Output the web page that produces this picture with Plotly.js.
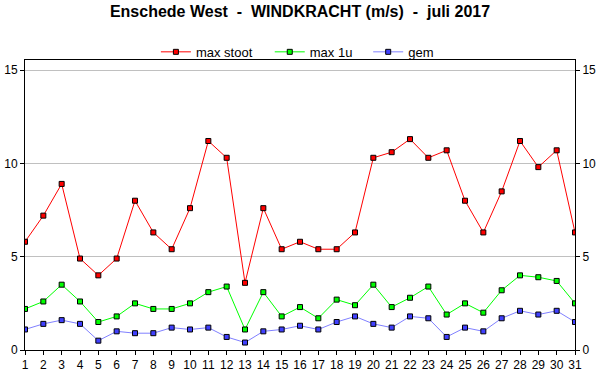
<!DOCTYPE html>
<html><head><meta charset="utf-8">
<script src="https://cdn.plot.ly/plotly-3.0.1.min.js"></script>
<style>body{margin:0;background:#fff}#c{width:600px;height:390px}</style>
</head><body><div id="c"></div>
<script>
const days = Array.from({length:31},(_,i)=>i+1);
const maxStoot = [5.8,7.2,8.9,4.9,4.0,4.9,8.0,6.3,5.4,7.6,11.2,10.3,3.6,7.6,5.4,5.8,5.4,5.4,6.3,10.3,10.6,11.3,10.3,10.7,8.0,6.3,8.5,11.2,9.8,10.7,6.3];
const max1u = [2.2,2.6,3.5,2.6,1.5,1.8,2.5,2.2,2.2,2.5,3.1,3.4,1.1,3.1,1.8,2.3,1.7,2.7,2.4,3.5,2.3,2.8,3.4,1.9,2.5,2.0,3.2,4.0,3.9,3.7,2.5];
const gem = [1.1,1.4,1.6,1.4,0.5,1.0,0.9,0.9,1.2,1.1,1.2,0.7,0.4,1.0,1.1,1.3,1.1,1.5,1.8,1.4,1.2,1.8,1.7,0.7,1.2,1.0,1.7,2.1,1.9,2.1,1.5];
const yTicks = [0,5,10,15];
const F = '"Liberation Sans", Arial, sans-serif';
function tr(name, y, lc, mc, lg){
  return {x:days, y:y, name:name, type:'scatter', mode:'lines+markers', legend:lg,
    line:{color:lc,width:1}, marker:{symbol:'square',size:5,color:mc,line:{color:'#000',width:1}}};
}
const data = [
  tr('max stoot', maxStoot, '#ff0000', '#ff0000', 'legend'),
  tr('max 1u', max1u, '#00ff00', '#00ff00', 'legend2'),
  tr('gem', gem, '#8080ff', '#4040ff', 'legend3')
];
const yr = [0,15.54];
function lg(x){ return {x:x, xanchor:'left', y:1.028, yanchor:'middle', orientation:'h', font:{family:F,size:13,color:'#000'}, bgcolor:'rgba(0,0,0,0)'}; }
const layout = {
  width:600, height:390, margin:{l:25,r:25,t:60,b:40},
  paper_bgcolor:'#fff', plot_bgcolor:'#fff',
  font:{family:F,size:12,color:'#000'},
  title:{text:'<b>Enschede West  -  WINDKRACHT (m/s)  -  juli 2017</b>', x:0.5, xanchor:'center', y:0.97, yanchor:'middle', font:{family:F,size:16,color:'#000'}},
  showlegend:true,
  legend:lg(0.238), legend2:lg(0.445), legend3:lg(0.624),
  xaxis:{range:[1,31], tickvals:days, ticktext:days.map(String), showgrid:false, zeroline:false,
    showline:true, linecolor:'#000', linewidth:1, mirror:true, ticks:'outside', ticklen:4, tickcolor:'#000', tickfont:{family:F,size:12}},
  yaxis:{range:yr, tickvals:yTicks, showgrid:true, gridcolor:'#c0c0c0', gridwidth:1, zeroline:false,
    showline:true, linecolor:'#000', linewidth:1, ticks:'outside', ticklen:4, tickcolor:'#000', tickfont:{family:F,size:12}},
  yaxis2:{range:yr, tickvals:yTicks, overlaying:'y', side:'right', showgrid:false, zeroline:false,
    showline:true, linecolor:'#000', linewidth:1, ticks:'outside', ticklen:4, tickcolor:'#000', tickfont:{family:F,size:12}}
};
data.push({x:[1], y:[0], yaxis:'y2', type:'scatter', mode:'markers', marker:{opacity:0}, showlegend:false, hoverinfo:'skip'});
Plotly.newPlot('c', data, layout, {displayModeBar:false, staticPlot:true});
</script></body></html>
